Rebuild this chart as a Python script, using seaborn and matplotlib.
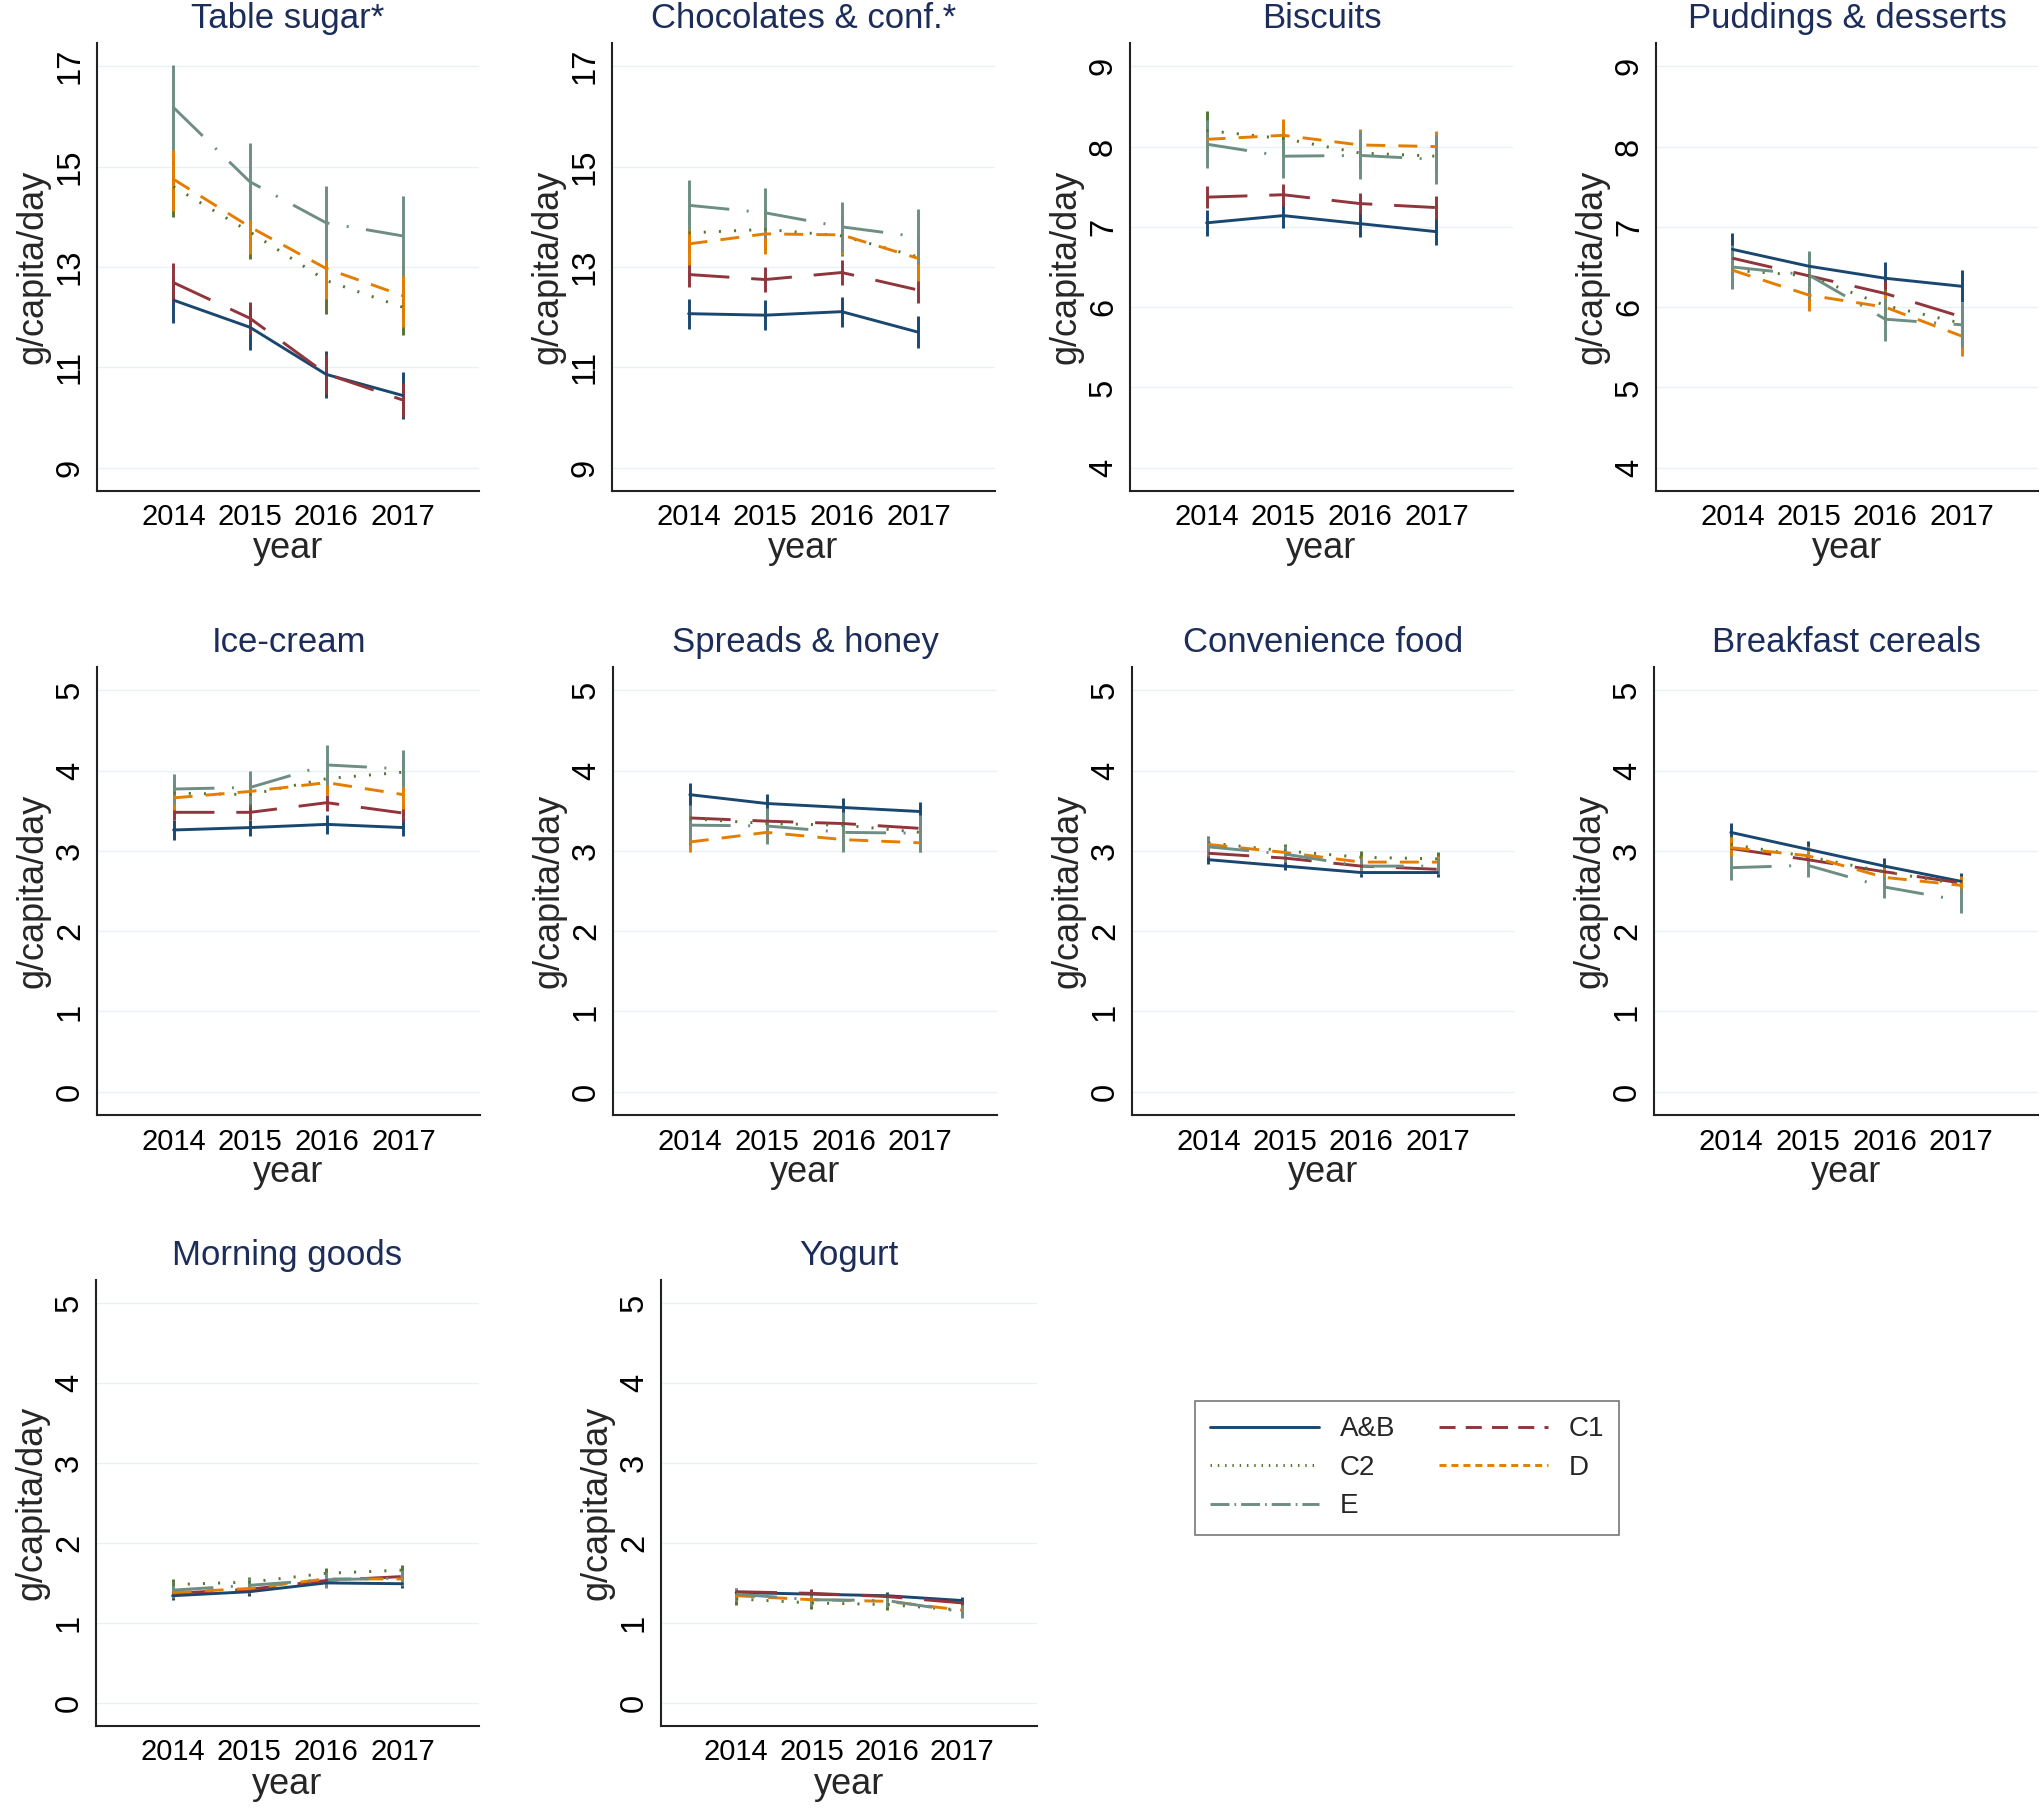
import matplotlib
matplotlib.use('Agg')
import matplotlib.pyplot as plt
from matplotlib.lines import Line2D
import seaborn as sns
import pandas as pd

sns.set_style('white')
plt.rcParams['font.family'] = ['Liberation Sans', 'DejaVu Sans']

years = [2014, 2015, 2016, 2017]
groups = ['A&B', 'C1', 'C2', 'D', 'E']

# mean purchases (g/capita/day) and half width of the 95% CI
sugar = {'A&B': [12.34, 11.80, 10.86, 10.44], 'C1': [12.69, 11.98, 10.87, 10.35],
         'C2': [14.60, 13.70, 12.73, 12.20], 'D': [14.75, 13.80, 12.97, 12.43],
         'E': [16.18, 14.70, 13.88, 13.62]}
sugar_ci = {'A&B': [0.45, 0.45, 0.47, 0.46], 'C1': [0.38, 0.32, 0.40, 0.33],
            'C2': [0.60, 0.55, 0.67, 0.55], 'D': [0.63, 0.55, 0.60, 0.63],
            'E': [0.85, 0.77, 0.74, 0.80]}

choc = {'A&B': [12.07, 12.04, 12.11, 11.70], 'C1': [12.85, 12.75, 12.89, 12.54],
        'C2': [13.68, 13.75, 13.62, 13.20], 'D': [13.46, 13.66, 13.64, 13.17],
        'E': [14.23, 14.08, 13.80, 13.60]}
choc_ci = {'A&B': [0.30, 0.30, 0.30, 0.32], 'C1': [0.25, 0.25, 0.25, 0.26],
           'C2': [0.40, 0.40, 0.40, 0.40], 'D': [0.43, 0.40, 0.40, 0.44],
           'E': [0.50, 0.50, 0.50, 0.55]}

biscuits = {'A&B': [7.05, 7.14, 7.04, 6.94], 'C1': [7.37, 7.40, 7.29, 7.24],
            'C2': [8.20, 8.10, 7.92, 7.88], 'D': [8.09, 8.14, 8.02, 8.00],
            'E': [8.03, 7.88, 7.89, 7.84]}
biscuits_ci = {'A&B': [0.16, 0.15, 0.17, 0.17], 'C1': [0.14, 0.14, 0.13, 0.14],
               'C2': [0.24, 0.20, 0.20, 0.20], 'D': [0.16, 0.20, 0.20, 0.20],
               'E': [0.30, 0.27, 0.30, 0.30]}

puddings = {'A&B': [6.72, 6.51, 6.36, 6.26], 'C1': [6.61, 6.39, 6.17, 5.88],
            'C2': [6.46, 6.39, 6.02, 5.80], 'D': [6.46, 6.15, 6.00, 5.64],
            'E': [6.50, 6.40, 5.85, 5.78]}
puddings_ci = {'A&B': [0.20, 0.17, 0.20, 0.20], 'C1': [0.15, 0.15, 0.15, 0.15],
               'C2': [0.20, 0.20, 0.20, 0.20], 'D': [0.20, 0.20, 0.20, 0.25],
               'E': [0.27, 0.30, 0.27, 0.28]}

icecream = {'A&B': [3.26, 3.29, 3.33, 3.29], 'C1': [3.48, 3.48, 3.60, 3.47],
            'C2': [3.72, 3.70, 3.90, 3.98], 'D': [3.66, 3.74, 3.85, 3.70],
            'E': [3.77, 3.79, 4.07, 4.02]}
icecream_ci = {'A&B': [0.12, 0.10, 0.12, 0.10], 'C1': [0.10, 0.10, 0.10, 0.10],
               'C2': [0.15, 0.15, 0.15, 0.15], 'D': [0.15, 0.15, 0.15, 0.18],
               'E': [0.19, 0.21, 0.25, 0.23]}

spreads = {'A&B': [3.70, 3.59, 3.54, 3.49], 'C1': [3.41, 3.37, 3.34, 3.28],
           'C2': [3.40, 3.34, 3.32, 3.23], 'D': [3.11, 3.23, 3.14, 3.10],
           'E': [3.32, 3.31, 3.23, 3.22]}
spreads_ci = {'A&B': [0.14, 0.12, 0.12, 0.12], 'C1': [0.10, 0.10, 0.10, 0.10],
              'C2': [0.15, 0.15, 0.15, 0.15], 'D': [0.12, 0.12, 0.12, 0.12],
              'E': [0.25, 0.22, 0.25, 0.23]}

convenience = {'A&B': [2.89, 2.81, 2.73, 2.73], 'C1': [2.97, 2.91, 2.81, 2.77],
               'C2': [3.10, 3.00, 2.92, 2.90], 'D': [3.08, 2.98, 2.86, 2.86],
               'E': [3.05, 2.96, 2.81, 2.81]}
convenience_ci = {'A&B': [0.05, 0.05, 0.05, 0.05], 'C1': [0.06, 0.06, 0.06, 0.06],
                  'C2': [0.08, 0.08, 0.08, 0.08], 'D': [0.07, 0.07, 0.07, 0.07],
                  'E': [0.12, 0.10, 0.10, 0.10]}

cereals = {'A&B': [3.23, 3.02, 2.81, 2.62], 'C1': [3.03, 2.89, 2.74, 2.60],
           'C2': [3.08, 2.93, 2.74, 2.58], 'D': [3.04, 2.94, 2.67, 2.57],
           'E': [2.79, 2.82, 2.55, 2.38]}
cereals_ci = {'A&B': [0.12, 0.10, 0.10, 0.10], 'C1': [0.08, 0.08, 0.08, 0.08],
              'C2': [0.10, 0.10, 0.10, 0.10], 'D': [0.13, 0.12, 0.12, 0.12],
              'E': [0.15, 0.15, 0.14, 0.16]}

morning = {'A&B': [1.34, 1.39, 1.50, 1.49], 'C1': [1.37, 1.42, 1.53, 1.58],
           'C2': [1.48, 1.51, 1.62, 1.66], 'D': [1.38, 1.43, 1.55, 1.55],
           'E': [1.41, 1.47, 1.54, 1.56]}
morning_ci = {'A&B': [0.05, 0.05, 0.05, 0.05], 'C1': [0.06, 0.06, 0.06, 0.06],
              'C2': [0.07, 0.07, 0.07, 0.07], 'D': [0.06, 0.06, 0.06, 0.06],
              'E': [0.10, 0.09, 0.10, 0.10]}

yogurt = {'A&B': [1.38, 1.36, 1.34, 1.28], 'C1': [1.39, 1.37, 1.33, 1.25],
          'C2': [1.30, 1.25, 1.23, 1.16], 'D': [1.34, 1.29, 1.27, 1.16],
          'E': [1.36, 1.29, 1.28, 1.14]}
yogurt_ci = {'A&B': [0.05, 0.05, 0.05, 0.05], 'C1': [0.05, 0.05, 0.05, 0.05],
             'C2': [0.07, 0.07, 0.07, 0.07], 'D': [0.06, 0.06, 0.06, 0.06],
             'E': [0.08, 0.08, 0.08, 0.08]}

titles = ['Table sugar*', 'Chocolates & conf.*', 'Biscuits', 'Puddings & desserts',
          'Ice-cream', 'Spreads & honey', 'Convenience food', 'Breakfast cereals',
          'Morning goods', 'Yogurt']
means = [sugar, choc, biscuits, puddings, icecream, spreads, convenience, cereals, morning, yogurt]
cis = [sugar_ci, choc_ci, biscuits_ci, puddings_ci, icecream_ci, spreads_ci,
       convenience_ci, cereals_ci, morning_ci, yogurt_ci]
ticks_hi = [9, 11, 13, 15, 17]
ticks_mid = [4, 5, 6, 7, 8, 9]
ticks_lo = [0, 1, 2, 3, 4, 5]
yticks = [ticks_hi, ticks_hi, ticks_mid, ticks_mid] + [ticks_lo] * 6

palette = {'A&B': '#1a476f', 'C1': '#90353b', 'C2': '#55752f', 'D': '#e37e00', 'E': '#6e8e84'}
dashes = {'A&B': '', 'C1': (14, 7.5), 'C2': (0.7, 4.5), 'D': (6.5, 4.5), 'E': (14, 6, 0.7, 6)}
LW = 2.1

W, H = 2042, 1820
# axes boxes in pixels: left, (top, bottom), right
r1, r2, r3 = (43, 491), (667, 1115), (1280, 1726)
boxes = [(97, r1), (612, r1), (1130, r1), (1656, r1),
         (97, r2), (613, r2), (1132, r2), (1654, r2),
         (96, r3), (661, r3)]
rights = [479, 995, 1513, 2038, 480, 997, 1514, 2038, 479, 1037]

fig = plt.figure(figsize=(W / 100, H / 100), dpi=100)
fig.patch.set_facecolor('white')

for i in range(10):
    l, (t, b) = boxes[i]
    r = rights[i]
    ax = fig.add_axes([l / W, 1 - b / H, (r - l) / W, (b - t) / H])
    tk = yticks[i]
    span = tk[-1] - tk[0]
    pad = span * 0.058
    for y in tk:
        ax.axhline(y, color='#e6f3f5', lw=1.0, zorder=0)
    m, c = means[i], cis[i]
    for g in groups:
        lo = [v - h for v, h in zip(m[g], c[g])]
        hi = [v + h for v, h in zip(m[g], c[g])]
        ax.vlines(years, lo, hi, colors=palette[g], lw=LW, zorder=2)
    rows = []
    for g in groups:
        for yr, v in zip(years, m[g]):
            rows.append({'year': yr, 'value': v, 'group': g})
    df = pd.DataFrame(rows)
    sns.lineplot(data=df, x='year', y='value', hue='group', style='group',
                 hue_order=groups, style_order=groups, palette=palette,
                 dashes=dashes, lw=LW, legend=False, ax=ax, zorder=3)
    ax.set_xlim(2013, 2018)
    ax.set_ylim(tk[0] - pad, tk[-1] + pad)
    ax.set_xticks(years)
    ax.set_yticks(tk)
    ax.set_yticklabels([str(v) for v in tk], rotation=90, va='center')
    ax.tick_params(axis='both', direction='in', length=10, width=1.5, colors='#222222',
                   labelcolor='black')
    ax.tick_params(axis='y', pad=8, labelsize=23.5)
    ax.tick_params(axis='x', pad=9, labelsize=21)
    for s in ['top', 'right']:
        ax.spines[s].set_visible(False)
    for s in ['left', 'bottom']:
        ax.spines[s].set_color('#222222')
        ax.spines[s].set_linewidth(1.5)
    ax.set_xlabel('year', fontsize=26, labelpad=0)
    ax.set_ylabel('g/capita/day', fontsize=26, labelpad=3)
    ax.set_title(titles[i], fontsize=25, color='#1c2d5a', pad=11)

handles = [Line2D([0], [0], color=palette['A&B'], lw=LW),
           Line2D([0], [0], color=palette['C2'], lw=LW, dashes=(0.5, 2.0)),
           Line2D([0], [0], color=palette['E'], lw=LW, dashes=(6.5, 1.7, 0.6, 1.7)),
           Line2D([0], [0], color=palette['C1'], lw=LW, dashes=(5.5, 3.5)),
           Line2D([0], [0], color=palette['D'], lw=LW, dashes=(2.4, 1.7))]
labels = ['A&B', 'C2', 'E', 'C1', 'D']
leg = fig.legend(handles, labels, loc='upper left', ncol=2,
                 bbox_to_anchor=(1195 / W, 1 - 1401 / H), fontsize=20,
                 handlelength=3.9, handletextpad=0.75, columnspacing=1.6,
                 labelspacing=0.45, borderpad=0.55, fancybox=False, frameon=True,
                 borderaxespad=0)
leg.get_frame().set_edgecolor('#555555')
leg.get_frame().set_linewidth(1.2)

fig.savefig('out.png', dpi=100, facecolor='white')
